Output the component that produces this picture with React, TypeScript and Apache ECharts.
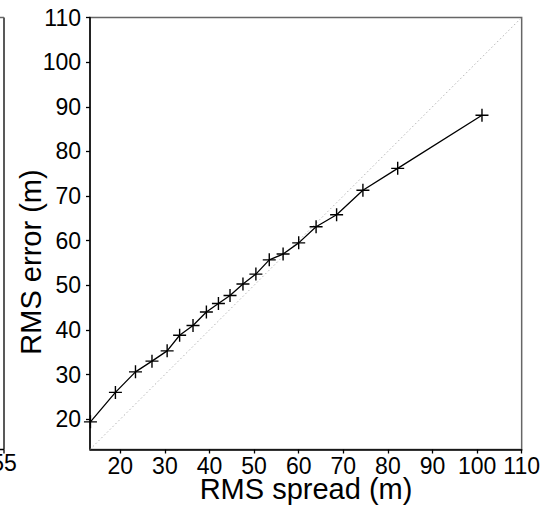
import React, { useEffect, useRef } from "react";
import * as echarts from "echarts";

const spread = [13.3, 18.9, 23.4, 27.1, 30.5, 33.3, 36.3, 39.3, 42.0, 44.6, 47.5, 50.4, 53.4, 56.5, 60.0, 63.9, 68.5, 74.4, 82.2, 101.1];
const error = [19.4, 26.0, 30.6, 33.0, 35.3, 38.8, 41.0, 44.0, 45.9, 47.7, 50.3, 52.5, 55.7, 57.0, 59.5, 63.1, 65.8, 71.3, 76.2, 88.1];
const ticks = [20, 30, 40, 50, 60, 70, 80, 90, 100, 110];
const axisMin = 13.2;
const axisMax = 110;
const xTitle = "RMS spread (m)";
const yTitle = "RMS error (m)";
const neighbourLabel = "55";

const FONT = "'Liberation Sans', Arial, Helvetica, sans-serif";

export default function App() {
  const ref = useRef<HTMLDivElement>(null);
  useEffect(() => {
    if (!ref.current) return;
    const chart = echarts.init(ref.current, null, { renderer: "svg" });
    const axisCommon = {
      type: "value" as const,
      min: axisMin,
      max: axisMax,
      axisLine: { show: true, onZero: false, lineStyle: { color: "#000", width: 1.5 } },
      axisTick: { show: true, inside: false, length: 4, customValues: ticks, lineStyle: { color: "#000", width: 1.3 } },
      splitLine: { show: false },
    };
    chart.setOption({
      animation: false,
      backgroundColor: "#fff",
      grid: { left: 90, top: 17.5, width: 432, height: 432, show: true, borderColor: "#666", borderWidth: 1.5, backgroundColor: "transparent" },
      xAxis: {
        ...axisCommon,
        axisLabel: { customValues: ticks, margin: 7, fontSize: 23, lineHeight: 18, color: "#000", fontFamily: FONT },
      },
      yAxis: {
        ...axisCommon,
        axisLabel: { customValues: ticks, margin: 9, fontSize: 23, color: "#000", fontFamily: FONT },
      },
      series: [
        {
          type: "line",
          data: [[axisMin, axisMin], [axisMax, axisMax]],
          showSymbol: false,
          silent: true,
          lineStyle: { color: "#b5b5b5", width: 1, type: [1.5, 2.5] },
        },
        {
          type: "line",
          data: spread.map((s, i) => [s, error[i]]),
          symbol: "path://M6,0 L6,12 M0,6 L12,6",
          symbolSize: 13,
          showSymbol: true,
          lineStyle: { color: "#000", width: 1.3 },
          itemStyle: { color: "none", borderColor: "#000", borderWidth: 1.4 },
        },
      ],
      graphic: [
        { type: "line", shape: { x1: 4, y1: 17.5, x2: 4, y2: 449.5 }, style: { stroke: "#222", lineWidth: 1.5 } },
        { type: "line", shape: { x1: 0, y1: 17.5, x2: 4, y2: 17.5 }, style: { stroke: "#666", lineWidth: 1.5 } },
        { type: "line", shape: { x1: 0, y1: 449.5, x2: 4, y2: 449.5 }, style: { stroke: "#000", lineWidth: 1.5 } },
        { type: "line", shape: { x1: 4, y1: 449.5, x2: 4, y2: 453.5 }, style: { stroke: "#000", lineWidth: 1.3 } },
        { type: "text", x: 4, y: 454, style: { text: neighbourLabel, fontSize: 23, lineHeight: 18, fontFamily: FONT, fill: "#000", align: "center", verticalAlign: "top" } },
        { type: "text", x: 306, y: 489, style: { text: xTitle, fontSize: 29, lineHeight: 24, fontFamily: FONT, fill: "#000", align: "center", verticalAlign: "middle" } },
        { type: "text", x: 31, y: 262, rotation: Math.PI / 2, style: { text: yTitle, fontSize: 29, lineHeight: 26, fontFamily: FONT, fill: "#000", align: "center", verticalAlign: "middle" } },
      ],
    });
    return () => chart.dispose();
  }, []);
  return <div ref={ref} style={{ position: "fixed", left: 0, top: 0, width: 543, height: 509 }} />;
}
